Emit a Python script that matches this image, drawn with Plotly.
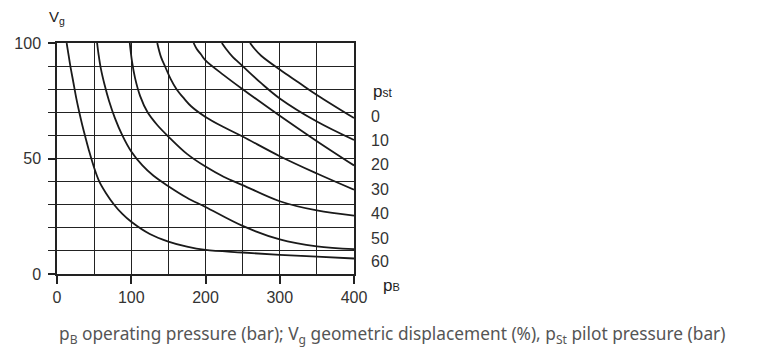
import plotly.graph_objects as go

# pilot pressure p_St (bar) for each curve, top curve first
pilot_pressures = [0, 10, 20, 30, 40, 50, 60]

# operating pressure p_B (bar) / geometric displacement V_g (%) per curve
p_st0 = [260, 266, 275, 300, 325, 350, 400]
v_st0 = [100, 97.5, 94.5, 88.5, 83, 77.5, 67.5]

p_st10 = [222, 228, 236, 250, 275, 300, 350, 400]
v_st10 = [100, 97.3, 94.2, 90, 82.6, 76, 66, 58]

p_st20 = [184, 188, 194, 200, 225, 250, 300, 350, 400]
v_st20 = [100, 97.5, 95, 92.5, 86, 80, 68.5, 57.5, 47]

p_st30 = [135, 140, 146, 153, 161, 171, 181, 200, 225, 250, 300, 350, 400]
v_st30 = [100, 94, 89.5, 84.5, 80, 76, 72.5, 68, 63.5, 59.5, 51, 43.5, 36.5]

p_st40 = [98, 101, 105, 112, 122, 135, 150, 175, 200, 225, 250, 300, 350, 400]
v_st40 = [100, 92, 85, 77, 70, 64.5, 59.5, 52, 46.5, 42, 38.5, 31.5, 27.5, 25.3]

p_st50 = [54, 56, 59, 64, 70, 78, 88, 100, 115, 130, 150, 175, 200, 250, 300, 350, 400]
v_st50 = [100, 95, 89, 82, 75, 67.5, 60, 53, 47, 42.5, 38, 33, 29, 20.8, 15, 12, 10.8]

p_st60 = [13, 15.5, 18, 22, 26, 30, 34, 38, 43, 50, 57, 66, 77, 88, 100, 125, 150, 175,
          200, 250, 300, 350, 400]
v_st60 = [100, 95, 90, 83, 76, 70, 64.5, 59.5, 53.5, 46, 40, 35, 30, 26, 22.6, 17.3, 14, 11.8,
          10.4, 9.3, 8.3, 7.5, 6.7]

curves_p = [p_st0, p_st10, p_st20, p_st30, p_st40, p_st50, p_st60]
curves_v = [v_st0, v_st10, v_st20, v_st30, v_st40, v_st50, v_st60]

# vertical placement of the p_St labels at the right edge (layout only)
label_y = [68.4, 58, 47.2, 36.4, 26.4, 15.2, 5.2]

INK = "#222222"
FONT = "Liberation Sans, Arial, sans-serif"

fig = go.Figure()

for p, v in zip(curves_p, curves_v):
    fig.add_trace(go.Scatter(
        x=p, y=v,
        mode="lines",
        line=dict(color="#1a1a1a", width=1.8, shape="spline", smoothing=1.0),
        showlegend=False,
        hoverinfo="skip",
    ))

fig.update_xaxes(
    range=[0, 400],
    tickvals=[0, 100, 200, 300, 400],
    ticks="outside", ticklen=8, tickwidth=1.5, tickcolor=INK,
    showgrid=True, gridcolor=INK, gridwidth=1.3,
    minor=dict(dtick=50, showgrid=True, gridcolor=INK, gridwidth=1.3),
    showline=True, linecolor=INK, linewidth=1.5, mirror=True,
    zeroline=False, automargin=False,
    tickfont=dict(family=FONT, size=16, color="#333333"),
)
fig.update_yaxes(
    range=[0, 100],
    tickvals=[0, 50, 100],
    ticks="outside", ticklen=7, tickwidth=1.5, tickcolor=INK,
    showgrid=True, gridcolor=INK, gridwidth=1.3,
    minor=dict(dtick=10, showgrid=True, gridcolor=INK, gridwidth=1.3,
               ticks="outside", ticklen=7, tickcolor=INK, tickwidth=1.3),
    showline=True, linecolor=INK, linewidth=1.5, mirror=True,
    zeroline=False, automargin=False,
    ticklabelstandoff=4,
    tickfont=dict(family=FONT, size=16, color="#333333"),
)

# axis symbols
fig.add_annotation(
    text="V<sub>g</sub>", xref="paper", yref="paper", x=0.0, y=1.11,
    xanchor="center", yanchor="middle", showarrow=False,
    font=dict(family=FONT, size=15, color=INK),
)
fig.add_annotation(
    text="p<span style='font-size:11px'>B</span>", xref="paper", yref="paper",
    x=1.125, y=-0.05, xanchor="center", yanchor="middle", showarrow=False,
    font=dict(family=FONT, size=17, color=INK),
)
fig.add_annotation(
    text="p<span style='font-size:12px'>st</span>", xref="x", yref="y",
    x=400, y=79, xshift=17, xanchor="left", yanchor="middle", showarrow=False,
    font=dict(family=FONT, size=17, color=INK),
)
for pst, y in zip(pilot_pressures, label_y):
    fig.add_annotation(
        text=str(pst), xref="x", yref="y", x=400, y=y, xshift=15,
        xanchor="left", yanchor="middle", showarrow=False,
        font=dict(family=FONT, size=16, color="#333333"),
    )

# caption
fig.add_annotation(
    text="p<sub>B</sub> operating pressure (bar); V<sub>g</sub> geometric displacement (%), "
         "p<sub>St</sub> pilot pressure (bar)",
    xref="paper", yref="paper", x=0.0, y=-0.265,
    xanchor="left", yanchor="middle", showarrow=False,
    font=dict(family="Noto Sans, sans-serif", size=17.3, color="#555555"),
)

# the page body adds an 8px margin, so the figure is 8px smaller
fig.update_layout(
    width=767, height=345,
    margin=dict(l=49, r=421, t=35, b=79),
    paper_bgcolor="white",
    plot_bgcolor="white",
)

fig.write_html("out.html")
